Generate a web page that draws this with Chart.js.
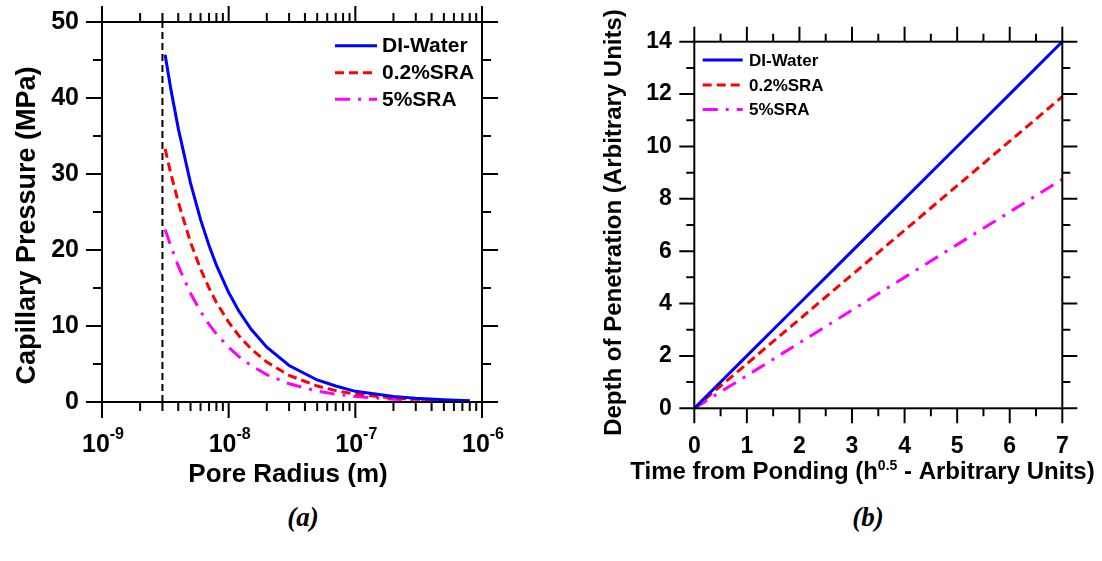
<!DOCTYPE html>
<html><head><meta charset="utf-8">
<script src="https://cdn.jsdelivr.net/npm/chart.js@4.4.1/dist/chart.umd.min.js"></script>
<style>
html,body{margin:0;padding:0;background:#fff;width:1102px;height:561px;overflow:hidden;}
canvas{position:absolute;top:0;}
#cA{left:0;} #cB{left:560px;}
.cap{position:absolute;font-family:"Liberation Serif","Times New Roman",serif;font-weight:bold;font-style:italic;font-size:27px;line-height:30px;top:502px;width:100px;text-align:center;color:#000;}
</style></head><body>
<canvas id="cA" width="550" height="500"></canvas>
<canvas id="cB" width="542" height="500"></canvas>
<div class="cap" style="left:253px">(a)</div>
<div class="cap" style="left:818px">(b)</div>
<script>
// ---------- data ----------
const seriesNames = ['DI-Water', '0.2%SRA', '5%SRA'];
const seriesColors = ['#0000ff', '#ff0000', '#ff00ff'];

const poreRadius = [3.15e-9, 3.5e-9, 4e-9, 5e-9, 6e-9, 7e-9, 8e-9, 1e-8, 1.2e-8, 1.5e-8, 2e-8, 3e-8, 5e-8, 7e-8, 1e-7, 2e-7, 3e-7, 5e-7, 8e-7];
const pressureDI    = [45.7, 41.1, 36.0, 28.8, 24.0, 20.6, 18.0, 14.4, 12.0, 9.6, 7.2, 4.8, 2.9, 2.1, 1.4, 0.72, 0.48, 0.29, 0.18];
const pressureSRA02 = [33.3, 30.0, 26.3, 21.0, 17.5, 15.0, 13.1, 10.5, 8.75, 7.0, 5.25, 3.5, 2.1, 1.5, 1.05, 0.53, 0.35, 0.21, 0.13];
const pressureSRA5  = [22.7, 20.5, 17.9, 14.3, 11.9, 10.2, 8.95, 7.2, 6.0, 4.8, 3.6, 2.4, 1.43, 1.02, 0.72, 0.36, 0.24, 0.14, 0.09];
const cutoffRadius = [3e-9, 3e-9];
const cutoffPressure = [0, 50];

const timeSqrt    = [0, 1, 2, 3, 4, 5, 6, 7];
const depthDI     = [0, 2, 4, 6, 8, 10, 12, 14];
const depthSRA02  = [0, 1.7, 3.4, 5.1, 6.8, 8.5, 10.2, 11.9];
const depthSRA5   = [0, 1.25, 2.5, 3.75, 5.0, 6.25, 7.5, 8.75];

// ---------- ticks ----------
const leftXTickValues = [1e-9, 1e-8, 1e-7, 1e-6];
const leftXTickExponents = ['-9', '-8', '-7', '-6'];
const leftYTicks = [0, 10, 20, 30, 40, 50];
const leftYMinor = [5, 15, 25, 35, 45];
const rightXTicks = [0, 1, 2, 3, 4, 5, 6, 7];
const rightXMinor = [0.5, 1.5, 2.5, 3.5, 4.5, 5.5, 6.5];
const rightYTicks = [0, 2, 4, 6, 8, 10, 12, 14];
const rightYMinor = [1, 3, 5, 7, 9, 11, 13];

const leftXTitle = 'Pore Radius (m)';
const leftYTitle = 'Capillary Pressure (MPa)';
const rightXTitleParts = ['Time from Ponding (h', '0.5', ' - Arbitrary Units)'];
const rightYTitle = 'Depth of Penetration (Arbitrary Units)';

const F = '"Liberation Sans", Arial, Helvetica, sans-serif';
const dashes = [[], [9, 5], [15, 8, 3, 8]];

function pts(xs, ys) { return xs.map((x, i) => ({x: x, y: ys[i]})); }

function seriesDataset(i, xs, ys) {
  return {
    label: seriesNames[i], data: pts(xs, ys), borderColor: seriesColors[i],
    borderWidth: 3, borderDash: dashes[i], pointRadius: 0, fill: false, tension: 0
  };
}

function drawParts(ctx, parts, cx, baseline) {
  let total = 0;
  parts.forEach(p => { ctx.font = p.font; p.w = ctx.measureText(p.t).width; total += p.w; });
  let x = cx - total / 2;
  ctx.textAlign = 'left'; ctx.textBaseline = 'alphabetic';
  parts.forEach(p => { ctx.font = p.font; ctx.fillText(p.t, x, baseline + (p.dy || 0)); x += p.w; });
}

function minorLog() {
  const out = [];
  for (let e = -9; e < -6; e++) for (let m = 2; m <= 9; m++) out.push(m * Math.pow(10, e));
  return out;
}

const deco = {
  id: 'deco',
  afterDraw(chart, args, o) {
    const ctx = chart.ctx, a = chart.chartArea;
    const xs = chart.scales.x, ys = chart.scales.y;
    ctx.save();
    ctx.setLineDash([]);
    ctx.strokeStyle = '#000';
    ctx.lineWidth = 2;
    ctx.strokeRect(a.left, a.top, a.right - a.left, a.bottom - a.top);
    ctx.beginPath();
    const xt = (v, L) => { const p = xs.getPixelForValue(v); ctx.moveTo(p, a.bottom); ctx.lineTo(p, a.bottom + L); ctx.moveTo(p, a.top); ctx.lineTo(p, a.top - L); };
    const yt = (v, L) => { const p = ys.getPixelForValue(v); ctx.moveTo(a.left, p); ctx.lineTo(a.left - L, p); ctx.moveTo(a.right, p); ctx.lineTo(a.right + L, p); };
    o.xMajor.forEach(v => xt(v, o.majorLen));
    o.xMinor.forEach(v => xt(v, o.minorLen));
    o.yMajor.forEach(v => yt(v, o.majorLen));
    o.yMinor.forEach(v => yt(v, o.minorLen));
    ctx.stroke();

    // legend
    const L = o.legend;
    for (let i = 0; i < 3; i++) {
      const ds = chart.data.datasets[i];
      const y = L.rows[i];
      ctx.beginPath();
      ctx.strokeStyle = ds.borderColor;
      ctx.lineWidth = 3;
      ctx.setLineDash(ds.borderDash || []);
      ctx.moveTo(L.x0, y); ctx.lineTo(L.x1, y);
      ctx.stroke();
      ctx.setLineDash([]);
      ctx.fillStyle = '#000';
      ctx.font = L.font;
      ctx.textAlign = 'left'; ctx.textBaseline = 'middle';
      ctx.fillText(ds.label, L.tx, y + 1);
    }
    ctx.fillStyle = '#000';
    o.text(ctx, chart, xs, ys);
    ctx.restore();
  }
};

function hiddenGrid(len) {
  return {display: false, drawTicks: true, tickLength: len};
}

// ---------- chart (a) ----------
new Chart(document.getElementById('cA'), {
  type: 'line',
  data: {
    datasets: [
      seriesDataset(0, poreRadius, pressureDI),
      seriesDataset(1, poreRadius, pressureSRA02),
      seriesDataset(2, poreRadius, pressureSRA5),
      { label: 'cutoff', data: pts(cutoffRadius, cutoffPressure), borderColor: '#000', borderWidth: 2, borderDash: [7, 4], pointRadius: 0, fill: false, order: 10 }
    ]
  },
  options: {
    responsive: false, animation: false, devicePixelRatio: 1,
    layout: {padding: {left: 0, top: 22, right: 68, bottom: 0}},
    plugins: {
      legend: {display: false}, tooltip: {enabled: false},
      deco: {
        xMajor: leftXTickValues, xMinor: minorLog(), yMajor: leftYTicks, yMinor: leftYMinor,
        majorLen: 16, minorLen: 9,
        legend: {x0: 335, x1: 377, tx: 382, rows: [45.7, 72.7, 99.3], font: 'bold 21px ' + F},
        text(ctx, chart, xs, ys) {
          leftXTickValues.forEach((v, i) => {
            drawParts(ctx, [
              {t: '10', font: 'bold 25px ' + F},
              {t: leftXTickExponents[i], font: 'bold 16px ' + F, dy: -13}
            ], xs.getPixelForValue(v) + 1, 452);
          });
          drawParts(ctx, [{t: leftXTitle, font: 'bold 26px ' + F}], 288, 482);
          ctx.save();
          ctx.translate(35, 225.5);
          ctx.rotate(-Math.PI / 2);
          ctx.font = 'bold 27px ' + F;
          ctx.textAlign = 'center'; ctx.textBaseline = 'alphabetic';
          ctx.fillText(leftYTitle, 0, 0);
          ctx.restore();
        }
      }
    },
    scales: {
      x: {
        type: 'logarithmic', min: 1e-9, max: 1e-6, position: 'bottom',
        grid: {display: false, drawTicks: false}, border: {display: false},
        ticks: {display: false},
        afterFit(s) { s.height = 98; }
      },
      y: {
        type: 'linear', min: 0, max: 50, position: 'left',
        grid: hiddenGrid(23), border: {display: false},
        ticks: {font: {family: F, size: 25, weight: 'bold'}, color: '#000', padding: 0, autoSkip: false},
        afterBuildTicks(s) { s.ticks = leftYTicks.map(v => ({value: v})); },
        afterFit(s) { s.width = 102; }
      }
    }
  },
  plugins: [deco]
});

// ---------- chart (b) ----------
new Chart(document.getElementById('cB'), {
  type: 'line',
  data: {
    datasets: [
      seriesDataset(0, timeSqrt, depthDI),
      seriesDataset(1, timeSqrt, depthSRA02),
      seriesDataset(2, timeSqrt, depthSRA5)
    ]
  },
  options: {
    responsive: false, animation: false, devicePixelRatio: 1,
    layout: {padding: {left: 0, top: 41.7, right: 39.7, bottom: 0}},
    plugins: {
      legend: {display: false}, tooltip: {enabled: false},
      deco: {
        xMajor: rightXTicks, xMinor: rightXMinor, yMajor: rightYTicks, yMinor: rightYMinor,
        majorLen: 15, minorLen: 8,
        legend: {x0: 142.7, x1: 182.7, tx: 189, rows: [60, 85, 109.5], font: 'bold 17px ' + F},
        text(ctx, chart, xs, ys) {
          drawParts(ctx, [
            {t: rightXTitleParts[0], font: 'bold 24px ' + F},
            {t: rightXTitleParts[1], font: 'bold 14px ' + F, dy: -9},
            {t: rightXTitleParts[2], font: 'bold 24px ' + F}
          ], 302.5, 478.5);
          ctx.save();
          ctx.translate(61, 222.5);
          ctx.rotate(-Math.PI / 2);
          ctx.font = 'bold 24px ' + F;
          ctx.textAlign = 'center'; ctx.textBaseline = 'alphabetic';
          ctx.fillText(rightYTitle, 0, 0);
          ctx.restore();
        }
      }
    },
    scales: {
      x: {
        type: 'linear', min: 0, max: 7, position: 'bottom',
        grid: hiddenGrid(25), border: {display: false},
        ticks: {font: {family: F, size: 23, weight: 'bold'}, color: '#000', padding: 0, autoSkip: false, maxRotation: 0},
        afterBuildTicks(s) { s.ticks = rightXTicks.map(v => ({value: v})); },
        afterFit(s) { s.height = 91.7; }
      },
      y: {
        type: 'linear', min: 0, max: 14, position: 'left',
        grid: hiddenGrid(22.5), border: {display: false},
        ticks: {font: {family: F, size: 23, weight: 'bold'}, color: '#000', padding: 0, autoSkip: false},
        afterBuildTicks(s) { s.ticks = rightYTicks.map(v => ({value: v})); },
        afterFit(s) { s.width = 134.3; }
      }
    }
  },
  plugins: [deco]
});
</script>
</body></html>
